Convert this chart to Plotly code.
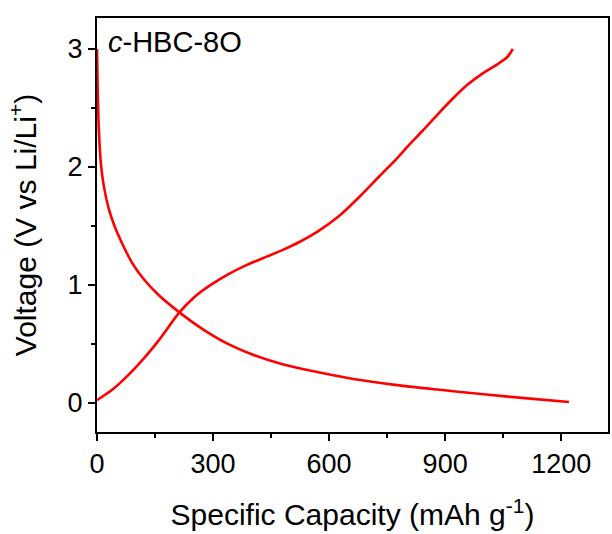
import plotly.graph_objects as go

# Discharge curve
dis_cap = [0, 2, 5, 10, 18, 30, 45, 65, 90, 120, 160, 213, 270, 337, 400, 475,
           560, 663, 770, 880, 1000, 1113, 1220]
dis_v = [3.0, 2.62, 2.3, 2.03, 1.83, 1.65, 1.5, 1.35, 1.19, 1.05, 0.91, 0.765,
         0.63, 0.5, 0.41, 0.33, 0.265, 0.2, 0.15, 0.11, 0.07, 0.035, 0.005]

# Charge curve
chg_cap = [0, 40, 80, 120, 160, 213, 250, 295, 340, 389, 440, 483, 522, 570,
           625, 680, 730, 775, 805, 840, 882, 920, 959, 1000, 1035, 1060, 1075]
chg_v = [0.02, 0.11, 0.23, 0.37, 0.53, 0.765, 0.89, 1.0, 1.09, 1.17, 1.24,
         1.30, 1.36, 1.45, 1.58, 1.75, 1.92, 2.07, 2.18, 2.30, 2.45, 2.58, 2.70,
         2.80, 2.87, 2.93, 3.0]

x_ticks = [0, 300, 600, 900, 1200]
y_ticks = [0, 1, 2, 3]

FONT = "Liberation Sans, Arial, sans-serif"

fig = go.Figure()
for xs, ys in ((dis_cap, dis_v), (chg_cap, chg_v)):
    fig.add_trace(go.Scatter(x=xs, y=ys, mode="lines",
                             line=dict(color="#ff0000", width=2.6, shape="spline",
                                       smoothing=0.8),
                             showlegend=False))

axis_common = dict(showline=True, linecolor="black", linewidth=2, mirror=True,
                   ticks="outside", ticklen=7, tickwidth=2, tickcolor="black",
                   showgrid=False, zeroline=False,
                   tickfont=dict(family=FONT, size=27, color="black"))

fig.update_xaxes(range=[0, 1321], tickvals=x_ticks, ticktext=[str(v) for v in x_ticks],
                 minor=dict(dtick=150, tick0=0, ticks="outside", ticklen=4, tickwidth=2,
                            tickcolor="black"),
                 title=dict(text="Specific Capacity (mAh g<sup>-1</sup>)",
                            font=dict(family=FONT, size=30, color="black"), standoff=26),
                 **axis_common)
fig.update_yaxes(range=[-0.25, 3.263], tickvals=y_ticks, ticktext=[str(v) for v in y_ticks],
                 minor=dict(dtick=0.5, tick0=0, ticks="outside", ticklen=4, tickwidth=2,
                            tickcolor="black"),
                 title=dict(text="Voltage (V vs Li/Li<sup>+</sup>)",
                            font=dict(family=FONT, size=30, color="black"), standoff=22),
                 **axis_common)

fig.add_annotation(x=0.018, y=0.985, xref="paper", yref="paper", xanchor="left",
                   yanchor="top", showarrow=False,
                   text="<i>c</i>-HBC-8O",
                   font=dict(family=FONT, size=29, color="black"))

fig.update_layout(width=612, height=534, margin=dict(l=97, r=2, t=18, b=102),
                  plot_bgcolor="white", paper_bgcolor="white")

fig.write_html("out.html")
